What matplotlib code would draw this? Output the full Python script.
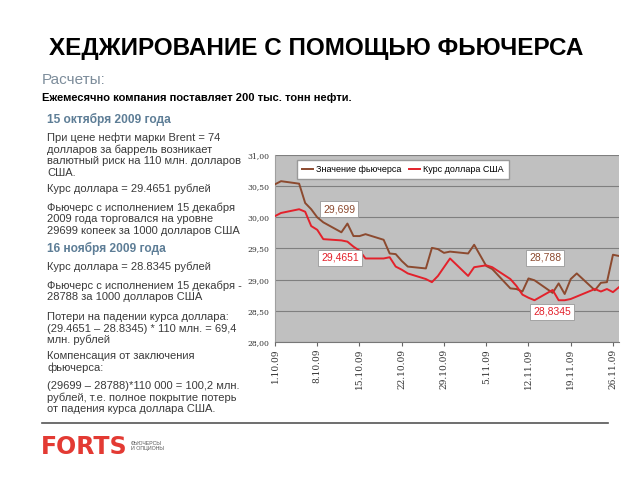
import matplotlib
matplotlib.use('Agg')
import matplotlib.pyplot as plt
from datetime import date, timedelta

plt.rcParams['font.family'] = ['Liberation Sans', 'DejaVu Sans']

# ── data ────────────────────────────────────────────────────────────────
dates = ['2009-10-01', '2009-10-02', '2009-10-05', '2009-10-06', '2009-10-07',
         '2009-10-08', '2009-10-09', '2009-10-12', '2009-10-13', '2009-10-14',
         '2009-10-15', '2009-10-16', '2009-10-19', '2009-10-20', '2009-10-21',
         '2009-10-22', '2009-10-23', '2009-10-26', '2009-10-27', '2009-10-28',
         '2009-10-29', '2009-10-30', '2009-11-02', '2009-11-03', '2009-11-05',
         '2009-11-06', '2009-11-09', '2009-11-10', '2009-11-11', '2009-11-12',
         '2009-11-13', '2009-11-16', '2009-11-17', '2009-11-18', '2009-11-19',
         '2009-11-20', '2009-11-23', '2009-11-24', '2009-11-25', '2009-11-26',
         '2009-11-27']
futures = [30.53, 30.58, 30.54, 30.23, 30.13, 30.00, 29.92, 29.76, 29.90, 29.70,
           29.699, 29.73, 29.64, 29.42, 29.41, 29.30, 29.21, 29.18, 29.51, 29.49,
           29.43, 29.45, 29.42, 29.56, 29.22, 29.17, 28.86, 28.85, 28.81, 29.02,
           28.99, 28.788, 28.94, 28.77, 29.01, 29.10, 28.83, 28.95, 28.96, 29.40,
           29.38]
usd = [30.02, 30.07, 30.13, 30.09, 29.86, 29.80, 29.65, 29.63, 29.61, 29.53,
       29.4651, 29.34, 29.34, 29.36, 29.21, 29.16, 29.10, 29.01, 28.96, 29.06,
       29.20, 29.34, 29.06, 29.20, 29.23, 29.20, 29.01, 28.90, 28.76, 28.71,
       28.67, 28.8345, 28.67, 28.67, 28.69, 28.73, 28.85, 28.81, 28.85, 28.80,
       28.88]
callouts = [('29,699', '#8c4a2f'), ('29,4651', '#e3212b'),
            ('28,788', '#8c4a2f'), ('28,8345', '#e3212b')]
yticks = [28.0, 28.5, 29.0, 29.5, 30.0, 30.5, 31.0]

BROWN = '#8c4a2f'
RED = '#e3212b'
STEEL = '#5d7d96'
TXT = '#3a3a3a'

W, H = 640, 480


def fx(x):
    return x / W


def fy(y):
    return 1 - y / H


fig = plt.figure(figsize=(6.4, 4.8), dpi=100, facecolor='white')

# ── header ──
fig.text(fx(316.5), fy(48), 'ХЕДЖИРОВАНИЕ С ПОМОЩЬЮ ФЬЮЧЕРСА', ha='center', va='center',
         fontsize=17.5, color='black', fontweight='bold')
fig.text(fx(42), fy(80), 'Расчеты:', ha='left', va='center', fontsize=11, color='#7d8d9b')
fig.text(fx(42), fy(98), 'Ежемесячно компания поставляет 200 тыс. тонн нефти.',
         ha='left', va='center', fontsize=8, color='black', fontweight='bold')

# ── left text column ──
lines = [
    (119, '15 октября 2009 года', True),
    (138, 'При цене нефти марки Brent = 74', False),
    (149.5, 'долларов за баррель возникает', False),
    (161, 'валютный риск на 110 млн. долларов', False),
    (172.5, 'США.', False),
    (189, 'Курс доллара = 29.4651 рублей', False),
    (208, 'Фьючерс с исполнением 15 декабря', False),
    (219.5, '2009 года торговался на уровне', False),
    (231, '29699 копеек за 1000 долларов США', False),
    (248, '16 ноября 2009 года', True),
    (267, 'Курс доллара = 28.8345 рублей', False),
    (286, 'Фьючерс с исполнением 15 декабря -', False),
    (297.5, '28788 за 1000 долларов США', False),
    (317, 'Потери на падении курса доллара:', False),
    (328.5, '(29.4651 – 28.8345) * 110 млн. = 69,4', False),
    (340, 'млн. рублей', False),
    (356, 'Компенсация от заключения', False),
    (367.5, 'фьючерса:', False),
    (386, '(29699 – 28788)*110 000 = 100,2 млн.', False),
    (397.5, 'рублей, т.е. полное покрытие потерь', False),
    (409, 'от падения курса доллара США.', False),
]
for y, s, head in lines:
    if head:
        fig.text(fx(47), fy(y), s, ha='left', va='center', fontsize=8.6,
                 color=STEEL, fontweight='bold')
    else:
        fig.text(fx(47), fy(y), s, ha='left', va='center', fontsize=8,
                 color=TXT)

# ── chart ──
ax = fig.add_axes([fx(275), fy(342), fx(619) - fx(275), fy(155) - fy(342)])
ax.set_facecolor('#c0c0c0')
d = [date.fromisoformat(s) for s in dates]
ax.plot(d, futures, color=BROWN, lw=1.4, label='Значение фьючерса', zorder=3)
ax.plot(d, usd, color=RED, lw=1.4, label='Курс доллара США', zorder=3)

ax.set_ylim(28, 31)
ax.set_yticks(yticks)
ax.set_yticklabels([f'{v:.2f}'.replace('.', ',') for v in yticks],
                   fontsize=5.5, color='#333333', family='DejaVu Serif')
ax.yaxis.grid(True, color='#7f7f7f', lw=0.8)
ax.set_axisbelow(True)

ax.set_xlim(d[0] - timedelta(days=0.5), d[-1] + timedelta(days=0.7))
xt = [d[0] + timedelta(days=7 * k) for k in range(9)]
ax.set_xticks(xt)
ax.set_xticklabels([f'{t.day}.{t.month}.{t.year % 100:02d}' for t in xt],
                   rotation=90, fontsize=6.5, color='#333333', family='DejaVu Serif')
ax.tick_params(axis='x', length=3, color='#666666', pad=2)
ax.tick_params(axis='y', length=0, pad=4)
for side in ['top', 'right']:
    ax.spines[side].set_visible(False)
ax.spines['left'].set_color('#a0a0a0')
ax.spines['bottom'].set_color('#777777')

leg = ax.legend(loc='upper left', bbox_to_anchor=(0.05, 0.995), ncol=2, fontsize=6.5,
                frameon=True, fancybox=False, edgecolor='#999999', framealpha=1,
                handlelength=1.3, handletextpad=0.3, columnspacing=0.8, borderpad=0.55)

# callout boxes
box_pos = [(339, 209), (340, 258), (545, 258), (552, 312)]
for (s, c), (bx, by) in zip(callouts, box_pos):
    fig.text(fx(bx), fy(by), s, ha='center', va='center', fontsize=7.5, color=c,
             bbox=dict(boxstyle='square,pad=0.3', facecolor='white', edgecolor='#999999', lw=0.6))

# ── footer ──
fig.add_artist(plt.Line2D([fx(42), fx(608)], [fy(423), fy(423)], color='#555555', lw=1.2))
fig.text(fx(41), fy(447), 'FORTS', ha='left', va='center', fontsize=17, color='#e33a33',
         fontweight='heavy', family='DejaVu Sans')
fig.text(fx(131), fy(446), 'ФЬЮЧЕРСЫ\nИ ОПЦИОНЫ', ha='left', va='center', fontsize=3.8,
         color='#555555', linespacing=1.1)

fig.savefig('out.png', dpi=100, facecolor='white')
